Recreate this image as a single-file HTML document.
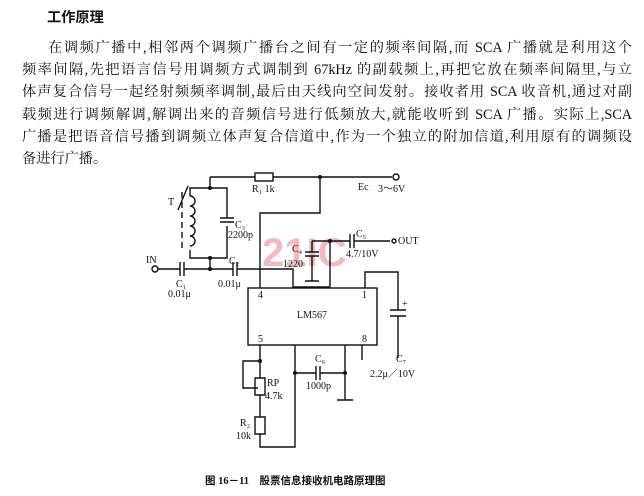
<!DOCTYPE html>
<html><head><meta charset="utf-8"><style>
body{margin:0;width:644px;height:496px;background:#fff;position:relative;overflow:hidden;font-family:"Liberation Serif","Noto Serif CJK SC",serif;color:#111}
.t{position:absolute;font-size:14.2px;white-space:nowrap;line-height:16px}
.j{left:22px;width:610px;text-align:justify;text-align-last:justify}
svg{position:absolute;left:0;top:0}
</style></head><body>
<div class="t" style="left:47px;top:9px;font-weight:bold;font-family:'Noto Sans CJK SC',sans-serif">工作原理</div>
<div class="t j" style="left:48px;width:584px;top:40px">在调频广播中,相邻两个调频广播台之间有一定的频率间隔,而 SCA 广播就是利用这个</div>
<div class="t j" style="top:62px">频率间隔,先把语言信号用调频方式调制到 67kHz 的副载频上,再把它放在频率间隔里,与立</div>
<div class="t j" style="top:84px">体声复合信号一起经射频频率调制,最后由天线向空间发射。接收者用 SCA 收音机,通过对副</div>
<div class="t j" style="top:107px">载频进行调频解调,解调出来的音频信号进行低频放大,就能收听到 SCA 广播。实际上,SCA</div>
<div class="t j" style="top:129px">广播是把语音信号播到调频立体声复合信道中,作为一个独立的附加信道,利用原有的调频设</div>
<div class="t" style="left:22px;top:151px">备进行广播。</div>
<svg width="644" height="496" font-family="Liberation Serif" font-size="10" fill="#111">
<text x="262" y="266" font-size="40" font-weight="bold" fill="#f4b8c0" font-family="Liberation Sans">21IC</text>
<g stroke="#111" stroke-width="1.4" fill="none">
<path d="M210 177H255M273 177H392"/><rect x="255" y="173" width="18" height="8"/>
<circle cx="396" cy="177" r="3"/>
<path d="M320 177V213H260V288"/>
<path d="M210 177V188H190V196M190 250V258H227V226M227 218V188H210M210 258V269"/>
<path d="M190 196a5 5 0 0 1 0 10a5 5 0 0 1 0 10a5 5 0 0 1 0 10a5 5 0 0 1 0 10a5 5 0 0 1 0 10"/>
<path d="M182 192V250" stroke-dasharray="6 4"/>
<path d="M178 210L188 186"/>
<path d="M220 218H234M220 222H234"/>
<circle cx="155" cy="269" r="3"/>
<path d="M158 269H180M184 269H233M237 269H293V287H330"/>
<path d="M180 262V276M184 262V276M233 262V276M237 262V276"/>
<path d="M312 241H350M354 241H390M330 241V287M312 241V252M305 252H319M305 256H319M312 256V281M305 281H319"/>
<path d="M350 234V248M354 234V248"/><circle cx="394" cy="241" r="2"/>
<path d="M365 288V272H398V310M398 316V358M390 310H406M390 316H406"/>
<rect x="248" y="288" width="129" height="57"/>
<path d="M260 345V378M260 395V417M260 434V447H295V345M255 378h10v17h-10zM255 417h10v17h-10z"/>
<path d="M260 361H243V388H258"/>
<path d="M295 373H316M320 373H345M316 366V380M320 366V380M345 345V400M337 400H353M362 345V360"/>
</g>
<g fill="#111"><circle cx="210" cy="188" r="2"/><circle cx="210" cy="258" r="2"/><circle cx="210" cy="269" r="2"/><circle cx="320" cy="177" r="2"/><circle cx="330" cy="241" r="2"/><circle cx="260" cy="361" r="2"/><circle cx="295" cy="373" r="2"/><circle cx="345" cy="373" r="2"/></g>
<text x="252" y="192">R₁ 1k</text><text x="358" y="190">Ec</text><text x="378" y="192">3～6V</text>
<text x="168" y="205">T</text><text x="235" y="228">C₃</text><text x="228" y="238">2200p</text>
<text x="146" y="263">IN</text><text x="176" y="287">C₁</text><text x="168" y="297">0.01μ</text>
<text x="229" y="264">C₂</text><text x="218" y="287">0.01μ</text>
<text x="292" y="252">C₄</text><text x="283" y="267">1220</text>
<text x="356" y="237">C₅</text><text x="346" y="257">4.7/10V</text><text x="398" y="244">OUT</text>
<text x="258" y="298">4</text><text x="362" y="298">1</text><text x="297" y="318">LM567</text>
<text x="258" y="342">5</text><text x="362" y="342">8</text><text x="402" y="307">+</text>
<text x="396" y="362">C₇</text><text x="370" y="377">2.2μ／10V</text>
<text x="315" y="362">C₆</text><text x="306" y="389">1000p</text>
<text x="267" y="386">RP</text><text x="265" y="399">4.7k</text>
<text x="240" y="426">R₂</text><text x="236" y="439">10k</text>
<text x="205" y="484" font-size="10.5" font-weight="bold" font-family="Liberation Serif,Noto Sans CJK SC,sans-serif">图 16－11　股票信息接收机电路原理图</text>
</svg>
</body></html>
